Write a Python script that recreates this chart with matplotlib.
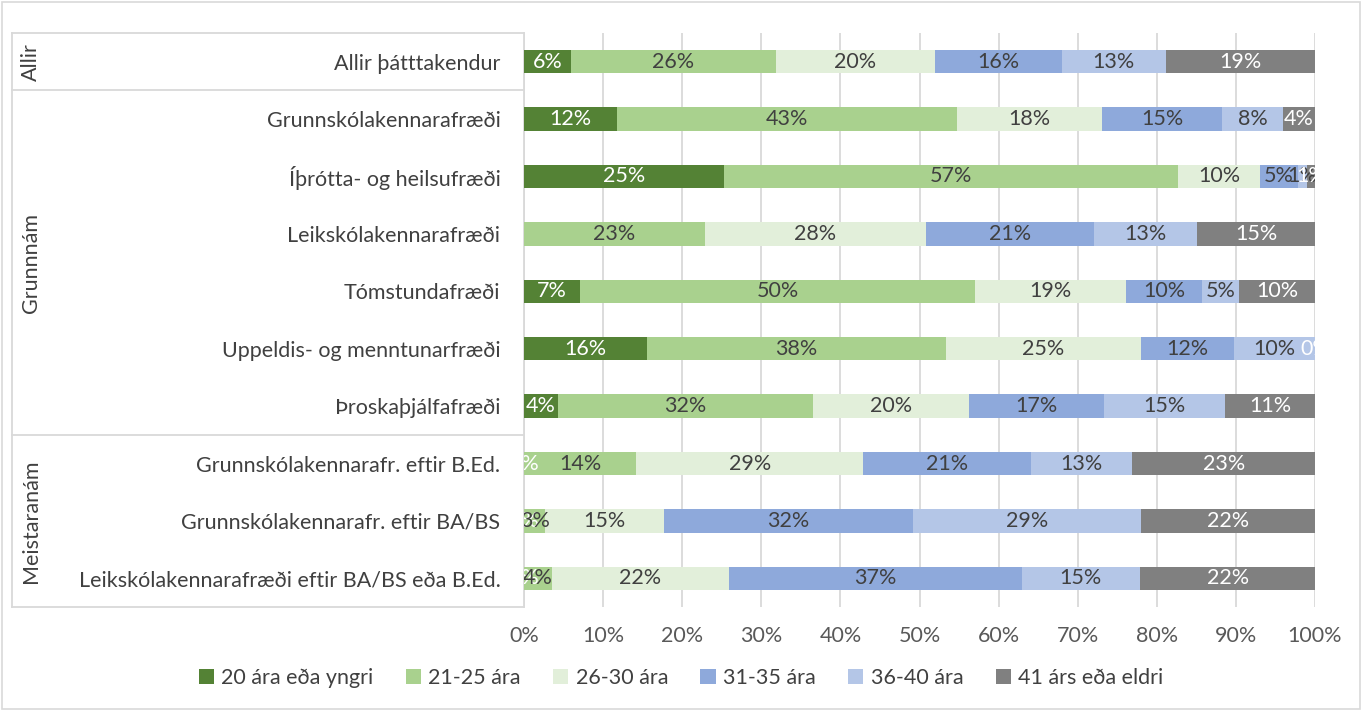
import numpy as np
import matplotlib.pyplot as plt
from matplotlib.lines import Line2D
from matplotlib.patches import Rectangle
from matplotlib.transforms import blended_transform_factory

plt.rcParams['font.family'] = ['Lato', 'DejaVu Sans']

# -------------------------
# Data (share of students per age group)
# -------------------------
categories = [
    "Allir þátttakendur",
    "Grunnskólakennarafræði",
    "Íþrótta- og heilsufræði",
    "Leikskólakennarafræði",
    "Tómstundafræði",
    "Uppeldis- og menntunarfræði",
    "Þroskaþjálfafræði",
    "Grunnskólakennarafr. eftir B.Ed.",
    "Grunnskólakennarafr. eftir BA/BS",
    "Leikskólakennarafræði eftir BA/BS eða B.Ed.",
]
groups = ["Allir", "Grunnnám", "Meistaranám"]
group_rows = [(0, 0), (1, 6), (7, 9)]

series_names = ["20 ára eða yngri", "21-25 ára", "26-30 ára",
                "31-35 ára", "36-40 ára", "41 árs eða eldri"]

age_20 = [5.9, 11.8, 25.3, np.nan, 7.1, 15.6, 4.3, 0.0, 0.0, 0.0]
age_21_25 = [26.0, 42.9, 57.4, 22.9, 49.9, 37.7, 32.2, 14.2, 2.7, 3.5]
age_26_30 = [20.0, 18.4, 10.4, 27.9, 19.1, 24.7, 19.7, 28.7, 15.0, 22.4]
age_31_35 = [16.1, 15.2, 4.7, 21.2, 9.6, 11.8, 17.1, 21.2, 31.5, 37.0]
age_36_40 = [13.1, 7.6, 1.2, 13.1, 4.7, 10.2, 15.3, 12.8, 28.8, 15.0]
age_41 = [18.9, 4.1, 1.0, 14.9, 9.6, 0.0, 11.4, 23.1, 22.0, 22.1]

series = [age_20, age_21_25, age_26_30, age_31_35, age_36_40, age_41]
colors = ["#548235", "#A9D18E", "#E2EFDA", "#8EA9DB", "#B4C6E7", "#808080"]
text_colors = ["white", "#404040", "#404040", "#404040", "#404040", "white"]

FS = 15.5

# -------------------------
# Figure
# -------------------------
W, H = 1362, 711
fig = plt.figure(figsize=(W / 100, H / 100), dpi=100)
left_px, right_px, top_px, bottom_px = 524, 1315, 33, 607
ax = fig.add_axes([left_px / W, 1 - bottom_px / H,
                   (right_px - left_px) / W, (bottom_px - top_px) / H])

y = np.arange(len(categories))
cum = np.zeros(len(categories))
for vals, name, col, tcol in zip(series, series_names, colors, text_colors):
    v = np.array(vals, dtype=float)
    w = np.nan_to_num(v) / 100.0
    ax.barh(y, w, left=cum, height=0.41, color=col, label=name, zorder=3)
    for i, val in enumerate(v):
        if np.isnan(val):
            continue
        ax.text(cum[i] + w[i] / 2, y[i], f"{int(np.floor(val + 0.5))}%", ha="center", va="center",
                color=tcol, fontsize=FS, zorder=4, clip_on=True)
    cum += w

ax.set_xlim(0, 1)
ax.set_ylim(len(categories) - 0.5, -0.5)
ax.set_xticks(np.linspace(0, 1, 11))
ax.set_xticklabels([f"{t}%" for t in range(0, 101, 10)], color="#595959", fontsize=FS)
ax.set_yticks(y)
ax.set_yticklabels(categories, color="#404040", fontsize=FS)
ax.tick_params(axis="both", length=0)
ax.tick_params(axis="x", pad=14)
ax.tick_params(axis="y", pad=17)
ax.grid(axis="x", color="#D9D9D9", linewidth=1.3, zorder=0)
for s in ["top", "right", "bottom"]:
    ax.spines[s].set_visible(False)
ax.spines["left"].set_color("#D9D9D9")
ax.spines["left"].set_linewidth(1.3)

# category table dividers and group labels
trans = blended_transform_factory(fig.transFigure, ax.transData)
x0 = 12 / W
x1 = left_px / W
for b in [-0.5, 0.5, 6.5, 9.5]:
    fig.add_artist(Line2D([x0, x1], [b, b], transform=trans, color="#D9D9D9", lw=1.3))
fig.add_artist(Line2D([x0, x0], [-0.5, 9.5], transform=trans, color="#D9D9D9", lw=1.3))
for g, (r0, r1) in zip(groups, group_rows):
    fig.text(31 / W, (r0 + r1) / 2, g, transform=trans, rotation=90,
             ha="center", va="center", color="#404040", fontsize=FS)

# outer border
fig.add_artist(Rectangle((2 / W, 2 / H), 1 - 4 / W, 1 - 4 / H, transform=fig.transFigure,
                         fill=False, edgecolor="#D9D9D9", lw=1.2))

fig.legend(loc="center", bbox_to_anchor=(0.5, 1 - 678 / H), ncol=6, frameon=False,
           fontsize=FS, handlelength=0.7, handleheight=0.7, handletextpad=0.35,
           columnspacing=1.5, labelcolor="#404040")

fig.savefig("out.png", dpi=100)
